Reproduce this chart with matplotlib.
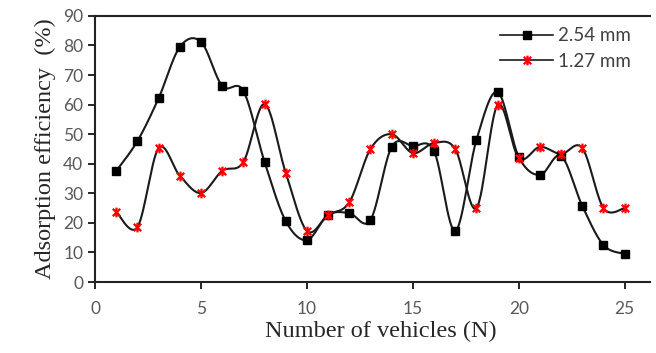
import numpy as np
import matplotlib
matplotlib.use('Agg')
import matplotlib.pyplot as plt
from matplotlib.path import Path

# Data
vehicles = [1, 2, 3, 4, 5, 6, 7, 8, 9, 10, 11, 12, 13, 14, 15, 16, 17, 18, 19, 20, 21, 22, 23, 24, 25]
eff_254 = [37.6, 47.7, 62.2, 79.5, 81.2, 66.3, 64.6, 40.6, 20.6, 14.2, 22.7, 23.3, 21.0,
           45.7, 46.0, 44.3, 17.3, 48.0, 64.3, 42.3, 36.2, 42.6, 25.7, 12.5, 9.5]
eff_127 = [23.7, 18.6, 45.3, 35.9, 30.1, 37.6, 40.6, 60.2, 36.9, 17.3, 22.7, 27.0, 45.0,
           50.0, 43.6, 47.0, 45.0, 25.0, 59.9, 42.0, 45.7, 43.3, 45.3, 25.0, 25.0]

y_ticks = [0, 10, 20, 30, 40, 50, 60, 70, 80, 90]
x_ticks = [0, 5, 10, 15, 20, 25]


def smooth(x, y, n=30, tension=0.5):
    # Excel-like smoothed line: Catmull-Rom through the points
    p = np.column_stack([x, y]).astype(float)
    p = np.vstack([p[0], p, p[-1]])
    out = []
    for i in range(1, len(p) - 2):
        p0, p1, p2, p3 = p[i - 1], p[i], p[i + 1], p[i + 2]
        m1 = tension * (p2 - p0)
        m2 = tension * (p3 - p1)
        t = np.linspace(0, 1, n)[:, None]
        h00 = 2 * t**3 - 3 * t**2 + 1
        h10 = t**3 - 2 * t**2 + t
        h01 = -2 * t**3 + 3 * t**2
        h11 = t**3 - t**2
        out.append(h00 * p1 + h10 * m1 + h01 * p2 + h11 * m2)
    c = np.vstack(out)
    return c[:, 0], c[:, 1]


# Excel "star" marker: x plus vertical bar
star = Path([(-1, -1), (1, 1), (-1, 1), (1, -1), (0, -1.3), (0, 1.3)],
            [Path.MOVETO, Path.LINETO, Path.MOVETO, Path.LINETO, Path.MOVETO, Path.LINETO])

fig = plt.figure(figsize=(6.56, 3.53), dpi=100)
ax = fig.add_axes([0.145, 0.201, 0.846, 0.754])

line_col = '#1a1a1a'
sx, sy = smooth(vehicles, eff_254)
ax.plot(sx, sy, color=line_col, lw=1.5, zorder=2)
sx, sy = smooth(vehicles, eff_127)
ax.plot(sx, sy, color=line_col, lw=1.5, zorder=2)

ax.plot(vehicles, eff_254, ls='none', marker='s', ms=6, color='black', zorder=3)
ax.plot(vehicles, eff_127, ls='none', marker=star, ms=7, mew=1.6,
        color='red', mfc='none', zorder=4)

# legend handles
h1, = ax.plot([], [], color=line_col, lw=1.2, marker='s', ms=6, mfc='black', mec='black')
h2, = ax.plot([], [], color=line_col, lw=1.2, marker=star, ms=7, mew=1.6, mec='red', mfc='none')
leg = ax.legend([h1, h2], ['2.54 mm', '1.27 mm'], loc='upper right', frameon=False,
                prop={'family': 'Lato', 'size': 13.5}, handlelength=2.8,
                borderaxespad=0.2, labelspacing=0.45, handletextpad=0.25,
                bbox_to_anchor=(0.985, 1.0))
for t in leg.get_texts():
    t.set_color('#404040')

ax.set_xlim(0, 26.2)
ax.set_ylim(0, 90)
ax.set_xticks(x_ticks)
ax.set_yticks(y_ticks)
ax.tick_params(direction='out', length=5, width=1.2, colors='black', labelsize=12.5,
               labelcolor='#595959')
ax.tick_params(axis='x', pad=9)
for lab in ax.get_xticklabels() + ax.get_yticklabels():
    lab.set_family('Lato')

for s in ['left', 'bottom', 'top']:
    ax.spines[s].set_linewidth(1.5)
    ax.spines[s].set_color('#222222')
ax.spines['right'].set_visible(False)

ax.set_xlabel('Number of vehicles (N)', family='Liberation Serif', fontsize=17.5,
              color='#262626')
ax.xaxis.set_label_coords(0.515, -0.145)
ax.set_ylabel('Adsorption efficiency  (%)', family='Liberation Serif', fontsize=17.5,
              color='#262626', labelpad=5)

fig.savefig('out.png', dpi=100, facecolor='white')
